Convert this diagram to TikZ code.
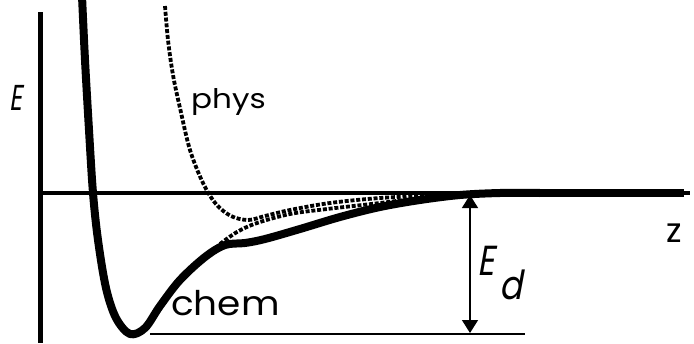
\documentclass[tikz,border=0pt]{standalone}
\usepackage{fontspec}
\setmainfont{Poppins}
\newfontfamily\slfont[FakeSlant=0.22]{Poppins}
\usetikzlibrary{arrows.meta}
\tikzset{
  axisline/.style={line width=4.5pt},
  chemcurve/.style={line width=8pt, line join=round, line cap=round},
  physcurve/.style={line width=3.8pt, dash pattern=on 4pt off 1.8pt},
  lbl/.style={inner sep=0pt, anchor=base west},
  measure/.style={line width=1.4pt, {Triangle[length=13pt,width=16pt]}-{Triangle[length=13pt,width=16pt]}},
}
\begin{document}
\begin{tikzpicture}[x=1pt,y=-1pt]
\useasboundingbox (0,0) rectangle (694,343);
\fill[white] (0,0) rectangle (694,343);
% axes
\coordinate (ytop) at (40.5,12);
\coordinate (ybot) at (40.5,343);
\coordinate (xl) at (40.5,193);
\coordinate (xr) at (690,193);
\draw[axisline] (ytop) -- (ybot);
\draw[axisline] (xl) -- (xr);
% bottom reference line
\coordinate (bl) at (150,334);
\coordinate (br) at (525,334);
\draw[line width=1.6pt] (bl) -- (br);
% chem curve
\draw[chemcurve] plot[smooth, tension=0.55] coordinates {
 (82,-4) (85,60) (89,130) (93,193) (98,240) (106,288) (116,318) (130,334)
 (145,328) (160,306) (180,280) (205,257) (225,245) (245,243) (265,239)
 (300,229) (340,217) (380,207) (420,200) (460,195) (500,193) (540,193)};
\draw[line width=8pt] (520,193) -- (684,193);
% phys curve
\draw[physcurve] plot[smooth, tension=0.55] coordinates {
 (165,6) (168,40) (173,75) (180,108) (190,150) (203,183) (216,204) (231,216)
 (248,220) (265,216) (290,210) (330,203) (380,198) (440,195) (480,193)};
% transition dashed
\draw[physcurve] plot[smooth, tension=0.55] coordinates {
 (220,244) (237,232) (257,223) (290,214) (327,209) (380,203) (430,197) (470,194)};
% E_d arrow
\coordinate (edtop) at (470,195);
\coordinate (edbot) at (470,333);
\draw[measure] (edtop) -- (edbot);
% labels
\node[lbl] (lE) at (9,110) {\fontsize{36}{36}\selectfont\slfont\scalebox{0.7}[1]{E}};
\node[lbl] (lphys) at (191,108) {\fontsize{27}{27}\selectfont\scalebox{1.15}[1]{phys}};
\node[lbl] (lchem) at (171,315) {\fontsize{34}{34}\selectfont\scalebox{1.1}[1]{chem}};
\node[lbl] (lz) at (666,242) {\fontsize{34}{34}\selectfont z};
\node[lbl] (lEd) at (477,275) {\fontsize{42}{42}\selectfont\slfont\scalebox{0.8}[1]{E}};
\node[lbl] (ld) at (499,299) {\fontsize{40}{40}\selectfont\slfont\scalebox{0.85}[1]{d}};
\end{tikzpicture}
\end{document}
